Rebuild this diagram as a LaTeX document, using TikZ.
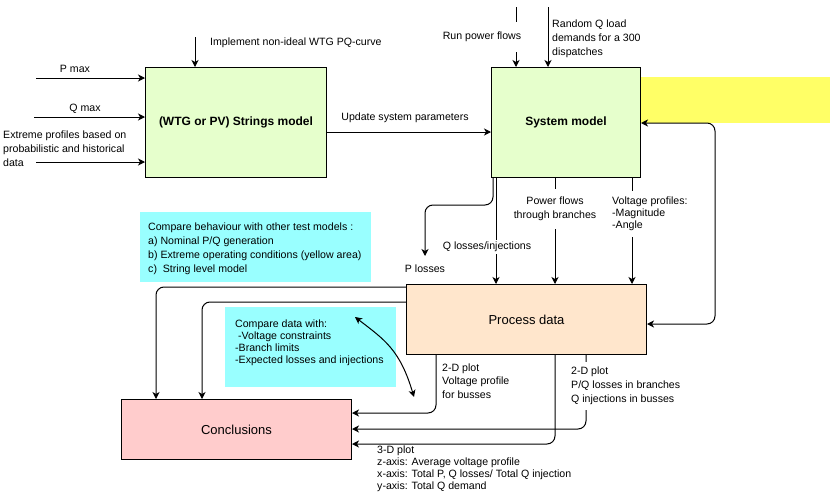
\documentclass[tikz,border=0pt]{standalone}
\usepackage{fontspec}
\setmainfont{Liberation Sans}
\usetikzlibrary{arrows.meta}
\definecolor{cgreen}{HTML}{E6FFCC}
\definecolor{cyel}{HTML}{FFFF66}
\definecolor{cpeach}{HTML}{FFE6CC}
\definecolor{cpink}{HTML}{FFCCCC}
\definecolor{ccyan}{HTML}{99FFFF}
\newcommand\lbfont[1]{\fontsize{10.6}{#1}\selectfont}
\begin{document}
\begin{tikzpicture}[x=1pt,y=-1pt,
  box/.style={draw=black, line width=1pt, inner sep=0pt, anchor=north west},
  plain/.style={inner sep=0pt, anchor=north west},
  ttl/.style={font=\fontsize{12}{14}\selectfont\bfseries},
  ttn/.style={font=\fontsize{13}{15}\selectfont},
  lbl/.style={font=\lbfont{13}, inner sep=0pt, align=left},
  lbla/.style={font=\lbfont{12}},
  lblb/.style={font=\lbfont{13.5}},
  lblc/.style={font=\lbfont{14}},
  arr/.style={line width=1pt, -{Stealth[length=7pt,width=7pt,inset=2pt]}},
  arrr/.style={line width=1pt, {Stealth[length=7pt,width=7pt,inset=2pt]}-{Stealth[length=7pt,width=7pt,inset=2pt]}},
  rc/.style={rounded corners=8pt}]
\fill[white] (0,0) rectangle (831,501);
\useasboundingbox (0,0) rectangle (831,501);

% shapes
\node[plain, fill=cyel, minimum width=190pt, minimum height=46pt] (yel) at (640,77) {};
\node[box, fill=cgreen, ttl, minimum width=181pt, minimum height=110pt] (sm) at (145,67) {(WTG or PV) Strings model};
\node[box, fill=cgreen, ttl, minimum width=149pt, minimum height=110pt] (sys) at (491,67) {System model};
\node[box, fill=cpeach, ttn, minimum width=240pt, minimum height=70pt] (proc) at (406,284) {Process data};
\node[box, fill=cpink, ttn, minimum width=230pt, minimum height=60pt] (concl) at (121,399) {Conclusions};
\node[plain, fill=ccyan, minimum width=231pt, minimum height=70pt] (cy1) at (140,212) {};
\node[plain, fill=ccyan, minimum width=171pt, minimum height=80pt] (cy2) at (225,307) {};

% inputs to strings model
\coordinate (pm) at (36,78);
\coordinate (qm) at (34,117);
\coordinate (ep) at (36,162);
\coordinate (im) at (195,37);
\draw[arr] (pm) -- (pm -| sm.west);
\draw[arr] (qm) -- (qm -| sm.west);
\draw[arr] (ep) -- (ep -| sm.west);
\draw[arr] (im) -- (im |- sm.north);

% strings -> system
\coordinate (up) at (0,132);
\draw[arr] (sm.east |- up) -- (sys.west |- up);

% inputs to system model
\coordinate (rp) at (516,7);
\coordinate (rq) at (548,7);
\draw[arr] (rp) -- (rp |- sys.north);
\draw[arr] (rq) -- (rq |- sys.north);

% loop between process data and system model
\coordinate (rl1) at (715,324);
\coordinate (rl2) at (715,123);
\draw[arrr, rc] (proc.east |- rl1) -- (rl1) -- (rl2) -- (sys.east |- rl2);

% system -> process data
\coordinate (xa) at (493,205);
\coordinate (pl) at (425,256);
\draw[arr, rc] (xa |- sys.south) -- (xa) -- (xa -| pl) -- (pl);
\coordinate (xb) at (496,0);
\coordinate (xc) at (555,0);
\coordinate (xd) at (632,0);
\draw[arr] (xb |- sys.south) -- (xb |- proc.north);
\draw[arr] (xc |- sys.south) -- (xc |- proc.north);
\draw[arr] (xd |- sys.south) -- (xd |- proc.north);

% process -> conclusions (top)
\coordinate (c1) at (156,287);
\coordinate (c2) at (202,302);
\draw[arr, rc] (proc.west |- c1) -- (c1) -- (c1 |- concl.north);
\draw[arr, rc] (proc.west |- c2) -- (c2) -- (c2 |- concl.north);

% bidirectional curve
\coordinate (b1) at (355,317);
\coordinate (b2) at (414,397);
\draw[arrr] (b1) .. controls (385,340) and (400,350) .. (b2);

% process -> conclusions (bottom)
\coordinate (d1) at (436,413);
\coordinate (d2) at (586,429);
\coordinate (d3) at (555,444);
\draw[arr, rc] (d1 |- proc.south) -- (d1) -- (d1 -| concl.east);
\draw[arr, rc] (d2 |- proc.south) -- (d2) -- (d2 -| concl.east);
\draw[arr, rc] (d3 |- proc.south) -- (d3) -- (d3 -| concl.east);

% labels
\node[lbl] (lpm) at (75,69) {P max};
\node[lbl] (lqm) at (85,109) {Q max};
\node[lbl, lblc, anchor=west] (lep) at (3,149) {Extreme profiles based on\\probabilistic and historical\\data};
\node[lbl, anchor=west] (lim) at (210,43) {Implement non-ideal WTG PQ-curve};
\node[lbl] (lup) at (405,118) {Update system parameters};
\node[lbl, fill=white, inner ysep=10pt] (lrp) at (482,37) {Run power flows};
\node[lbl, lblc, anchor=west] (lrq) at (552,38.5) {Random Q load\\demands for a 300\\dispatches};
\node[lbl] (lpl) at (425,269) {P losses};
\node[lbl, fill=white, inner ysep=2pt] (lql) at (487,247) {Q losses/injections};
\node[lbl, lblc, fill=white, inner ysep=8pt, align=center] (lpf) at (555,209) {Power flows\\through branches};
\node[lbl, lbla, fill=white, inner ysep=6pt, anchor=west] (lvp) at (612,214) {Voltage profiles:\\-Magnitude\\-Angle};
\node[lbl, lblb, anchor=west] (l2a) at (442,381) {2-D plot\\Voltage profile\\for busses};
\node[lbl, lblc, fill=white, inner ysep=5pt, anchor=west] (l2b) at (571,386) {2-D plot\\P/Q losses in branches\\Q injections in busses};
\node[lbl, lbla, anchor=west] (l3d) at (377,469) {3-D plot\\z-axis: Average voltage profile\\x-axis: Total P, Q losses/ Total Q injection\\y-axis: Total Q demand};
\node[lbl, lblc, anchor=west] (tc1) at (148,249) {Compare behaviour with other test models :\\a) Nominal P/Q generation\\b) Extreme operating conditions (yellow area)\\c)~ String level model};
\node[lbl, lbla, anchor=west] (tc2) at (235,343) {Compare data with:\\\hspace{3pt}-Voltage constraints\\-Branch limits\\-Expected losses and injections};
\end{tikzpicture}
\end{document}
